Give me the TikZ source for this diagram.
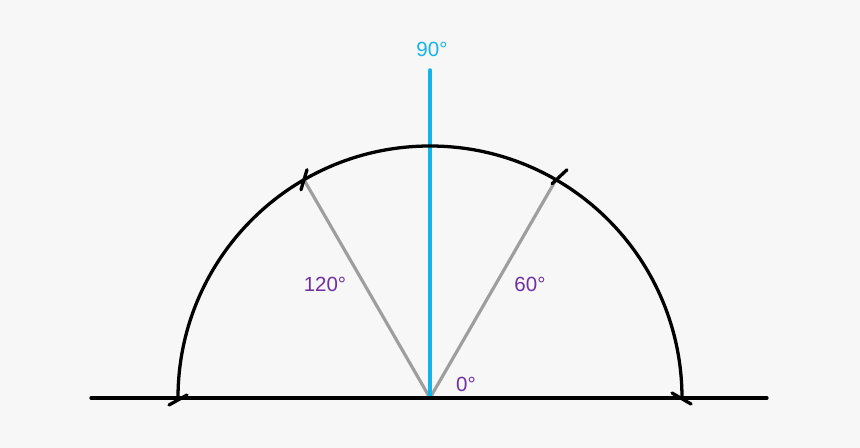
\documentclass[tikz,border=0pt]{standalone}
\usepackage{fontspec}
\setmainfont{Liberation Sans}
\definecolor{bgcol}{HTML}{F7F7F7}
\definecolor{skyblue}{HTML}{14B4EA}
\definecolor{anglepurple}{HTML}{7030A0}
\definecolor{raygray}{HTML}{9E9E9E}
\begin{document}
\begin{tikzpicture}[x=0.03cm,y=0.03cm,line join=round,line cap=round,font=\fontsize{17.5}{19}\selectfont,declare function={r=252;},
		ray/.style={raygray,line width=2.7pt},
		deg/.style={text=anglepurple,inner sep=0pt}]
			\fill[bgcol] (-430,-50) rectangle (430,398);
			\useasboundingbox (-430,-50) rectangle (430,398);
			\coordinate (O) at (0,0);
			\coordinate (L) at (-339,0);
			\coordinate (R) at (337,0);
			\coordinate (A0) at (r,0);
			\coordinate (A60) at (60:r);
			\coordinate (A120) at (120:r);
			\coordinate (A180) at (-r,0);
			\coordinate (T) at (0,328);
			\draw[ray] (O) -- (A60);
			\draw[ray] (O) -- (A120);
			\draw[skyblue,line width=3pt] (O) -- (T);
			\begin{scope}[line width=2.8pt]
				\draw (L) -- (R);
				\draw (A0) arc (0:180:r);
				% ticks on the arc
				\draw[shift={(A60)}] (-4,-4) -- (11,10);
				\draw[shift={(A120)}] (-3,-10) -- (3,10);
				\draw[shift={(A180)}] (-9,-7) -- (9,3);
				\draw[shift={(A0)}] (-10,5) -- (9,-6);
			\end{scope}
			\node[text=skyblue,inner sep=0pt] (l90) at (2,349) {90°};
			\node[deg] (l120) at (-105,114) {120°};
			\node[deg] (l60) at (100,114) {60°};
			\node[deg] (l0) at (36,14) {0°};
		\end{tikzpicture}
\end{document}
